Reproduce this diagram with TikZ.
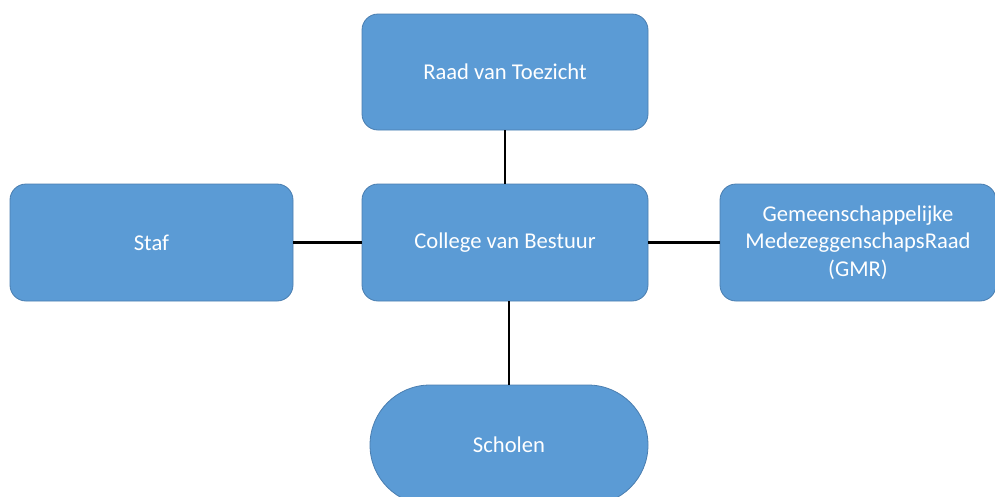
\documentclass[tikz,border=0pt]{standalone}
\usepackage{fontspec}
\setmainfont{Carlito}
\definecolor{boxfill}{HTML}{5B9BD5}
\definecolor{boxline}{HTML}{4A7EB0}
\begin{document}
\begin{tikzpicture}[x=1pt,y=-1pt,
  orgbox/.style={draw=boxline, line width=0.8pt, fill=boxfill, rounded corners=16pt,
    text=white, align=center, inner sep=0pt, font=\fontsize{22.6}{27.5}\selectfont},
  link/.style={draw=black, line width=2.3pt}]
\useasboundingbox[fill=white] (0,0) rectangle (995,496);
\node[orgbox, minimum width=286pt, minimum height=116pt] (raad) at (505,72) {Raad van Toezicht};
\node[orgbox, minimum width=283pt, minimum height=117pt] (staf) at (151.5,242.5) {Staf};
\node[orgbox, minimum width=286pt, minimum height=117pt] (cvb) at (505,242.5) {College van Bestuur};
\node[orgbox, minimum width=276pt, minimum height=117pt] (gmr) at (858,242.5) {Gemeenschappelijke\\MedezeggenschapsRaad\\(GMR)};
\node[orgbox, rounded corners=60pt, minimum width=278pt, minimum height=120pt] (scholen) at (509,445) {Scholen};
\draw[link] (raad) -- (cvb);
\draw[link] (staf) -- (cvb);
\draw[link] (cvb) -- (gmr);
\draw[link] (scholen.north) -- (scholen.north |- cvb.south);
\end{tikzpicture}
\end{document}
